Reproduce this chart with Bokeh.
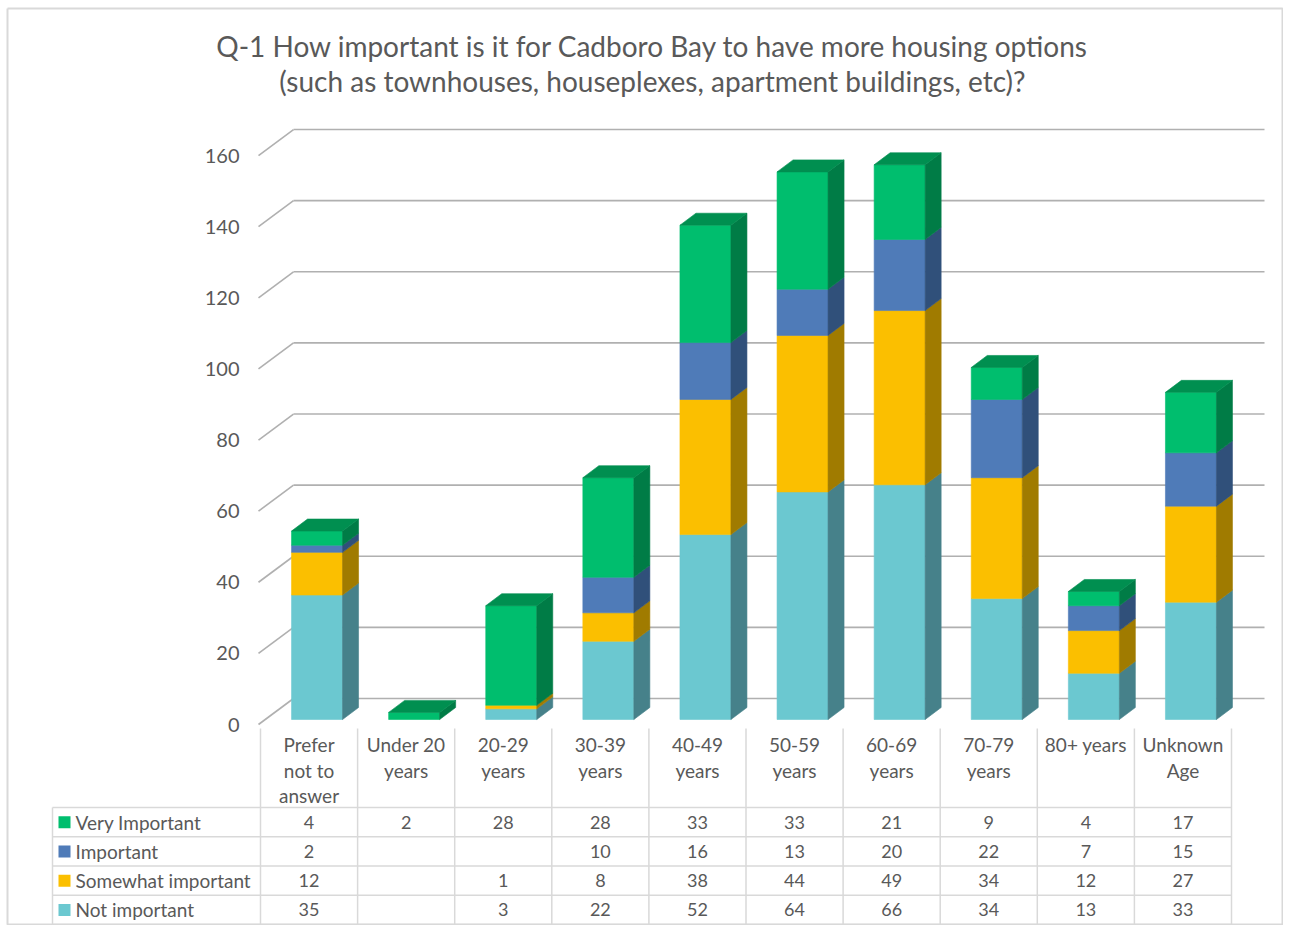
from bokeh.plotting import figure
from bokeh.models import Range1d
from bokeh.embed import file_html
from bokeh.resources import INLINE
from bokeh.core.properties import value

# ---------------- data ----------------
title_lines = ["Q-1 How important is it for Cadboro Bay to have more housing options",
               "(such as townhouses, houseplexes, apartment buildings, etc)?"]
categories = ["Prefer not to answer", "Under 20 years", "20-29 years", "30-39 years",
              "40-49 years", "50-59 years", "60-69 years", "70-79 years",
              "80+ years", "Unknown Age"]
category_labels = ["Prefer\nnot to\nanswer", "Under 20\nyears", "20-29\nyears", "30-39\nyears",
                   "40-49\nyears", "50-59\nyears", "60-69\nyears", "70-79\nyears",
                   "80+ years", "Unknown\nAge"]
series_names = ["Very Important", "Important", "Somewhat important", "Not important"]
very_important = [4, 2, 28, 28, 33, 33, 21, 9, 4, 17]
important = [2, None, None, 10, 16, 13, 20, 22, 7, 15]
somewhat_important = [12, None, 1, 8, 38, 44, 49, 34, 12, 27]
not_important = [35, None, 3, 22, 52, 64, 66, 34, 13, 33]
y_ticks = [0, 20, 40, 60, 80, 100, 120, 140, 160]

# ---------------- styles ----------------
front_colors = {"Very Important": "#00BE6E", "Important": "#4F7BB8",
                "Somewhat important": "#FBBF00", "Not important": "#6BC8D0"}
side_colors = {"Very Important": "#007C46", "Important": "#30507A",
               "Somewhat important": "#A07B00", "Not important": "#46818A"}
top_colors = {"Very Important": "#008F50", "Important": "#3E6699",
              "Somewhat important": "#CC9C00", "Not important": "#58A7AE"}
TXT = "#595959"
FONT = value("Lato")
GRID = "#B0B0B0"
TABLE_LINE = "#D9D9D9"

W, H = 1283, 925
PXC = 97.1    # pixels per category column
PXV = 3.556   # pixels per value unit
X0, Y0 = 260, 724   # canvas position of column 0 left edge / value 0 (front plane)


def ux(px):
    return px / PXC


def uy(px):
    return px / PXV


def cx(canvas_x):
    return (canvas_x - X0) / PXC


def cy(canvas_y):
    return (Y0 - canvas_y) / PXV


p = figure(width=W, height=H, output_backend="svg", toolbar_location=None,
           x_range=Range1d(cx(0), cx(W)), y_range=Range1d(cy(H), cy(0)),
           min_border=0, background_fill_color="white", border_fill_color="white")
p.axis.visible = False
p.grid.visible = False
p.outline_line_color = None

n = len(categories)

# outer chart border
p.multi_line([[cx(7), cx(W - 1), cx(W - 1), cx(7), cx(7)]],
             [[cy(8), cy(8), cy(H - 1), cy(H - 1), cy(8)]],
             line_color="#D9D9D9", line_width=2)

# ---------------- 3D walls / gridlines ----------------
WALL_DX, WALL_DY = ux(33), uy(26)
gx, gy = [], []
for t in y_ticks:
    gx.append([WALL_DX, n + WALL_DX])
    gy.append([t + WALL_DY, t + WALL_DY])
    gx.append([-ux(2), WALL_DX])
    gy.append([t, t + WALL_DY])
p.multi_line(gx, gy, line_color=GRID, line_width=1.6)

# y tick labels
p.text(x=[cx(239)] * len(y_ticks), y=y_ticks, text=[str(t) for t in y_ticks],
       text_font=FONT, text_font_size="20px", text_color=TXT,
       text_align="right", text_baseline="middle")

# ---------------- bars ----------------
BAR_OFF_X, BAR_OFF_Y = ux(8), uy(5)
BAR_HALF = ux(25.5)
DEP_X, DEP_Y = ux(16), uy(12)
stack_order = [("Not important", not_important), ("Somewhat important", somewhat_important),
               ("Important", important), ("Very Important", very_important)]

pxs, pys, pcol = [], [], []
for i in range(n):
    c = i + 0.5 + BAR_OFF_X
    xl, xr = c - BAR_HALF, c + BAR_HALF
    base = 0.0
    segs = []
    for name, vals in stack_order:
        v = vals[i] or 0
        if v > 0:
            segs.append((name, base, base + v))
            base += v
    for k, (name, b0, b1) in enumerate(segs):
        y0, y1 = b0 + BAR_OFF_Y, b1 + BAR_OFF_Y
        pxs.append([xl, xr, xr, xl]); pys.append([y0, y0, y1, y1]); pcol.append(front_colors[name])
        pxs.append([xr, xr + DEP_X, xr + DEP_X, xr])
        pys.append([y0, y0 + DEP_Y, y1 + DEP_Y, y1]); pcol.append(side_colors[name])
        if k == len(segs) - 1:
            pxs.append([xl, xr, xr + DEP_X, xl + DEP_X])
            pys.append([y1, y1, y1 + DEP_Y, y1 + DEP_Y]); pcol.append(top_colors[name])
p.patches(pxs, pys, fill_color=pcol, line_color=pcol, line_width=0.6)

# ---------------- title ----------------
p.text(x=[cx(652)] * 2, y=[cy(45), cy(80)], text=title_lines,
       text_font=FONT, text_font_size="28px", text_color=TXT,
       text_align="center", text_baseline="middle")

# ---------------- category labels ----------------
lx, ly, lt = [], [], []
line_pos = [cy(744), cy(770), cy(795)]
for i, lab in enumerate(category_labels):
    for j, part in enumerate(lab.split("\n")):
        lx.append(i + 0.5); ly.append(line_pos[j]); lt.append(part)
p.text(x=lx, y=ly, text=lt, text_font=FONT, text_font_size="19px", text_color=TXT,
       text_align="center", text_baseline="middle")

# ---------------- data table ----------------
TOP = 807
ROW_H = 29.25
row_lines = [cy(TOP + ROW_H * r) for r in range(5)]
LEFT = cx(52)
tx, ty = [], []
for yl in row_lines:
    tx.append([LEFT, n]); ty.append([yl, yl])
for k in range(n + 1):
    tx.append([k, k]); ty.append([cy(728), row_lines[-1]])
tx.append([LEFT, LEFT]); ty.append([row_lines[0], row_lines[-1]])
p.multi_line(tx, ty, line_color=TABLE_LINE, line_width=1.5)

table_rows = [very_important, important, somewhat_important, not_important]
vx, vy, vt = [], [], []
for r, vals in enumerate(table_rows):
    ymid = cy(TOP + ROW_H * r + ROW_H / 2)
    for i, v in enumerate(vals):
        if v is not None:
            vx.append(i + 0.5); vy.append(ymid); vt.append(str(v))
p.text(x=vx, y=vy, text=vt, text_font=FONT, text_font_size="18px", text_color=TXT,
       text_align="center", text_baseline="middle")

row_mid = [cy(TOP + ROW_H * r + ROW_H / 2) for r in range(4)]
p.scatter(x=[cx(64)] * 4, y=row_mid, marker="square", size=12,
          fill_color=[front_colors[s] for s in series_names], line_color=None)
p.text(x=[cx(75)] * 4, y=row_mid, text=series_names, text_font=FONT,
       text_font_size="19px", text_color=TXT, text_align="left", text_baseline="middle")

open("out.html", "w").write(file_html(p, INLINE))
